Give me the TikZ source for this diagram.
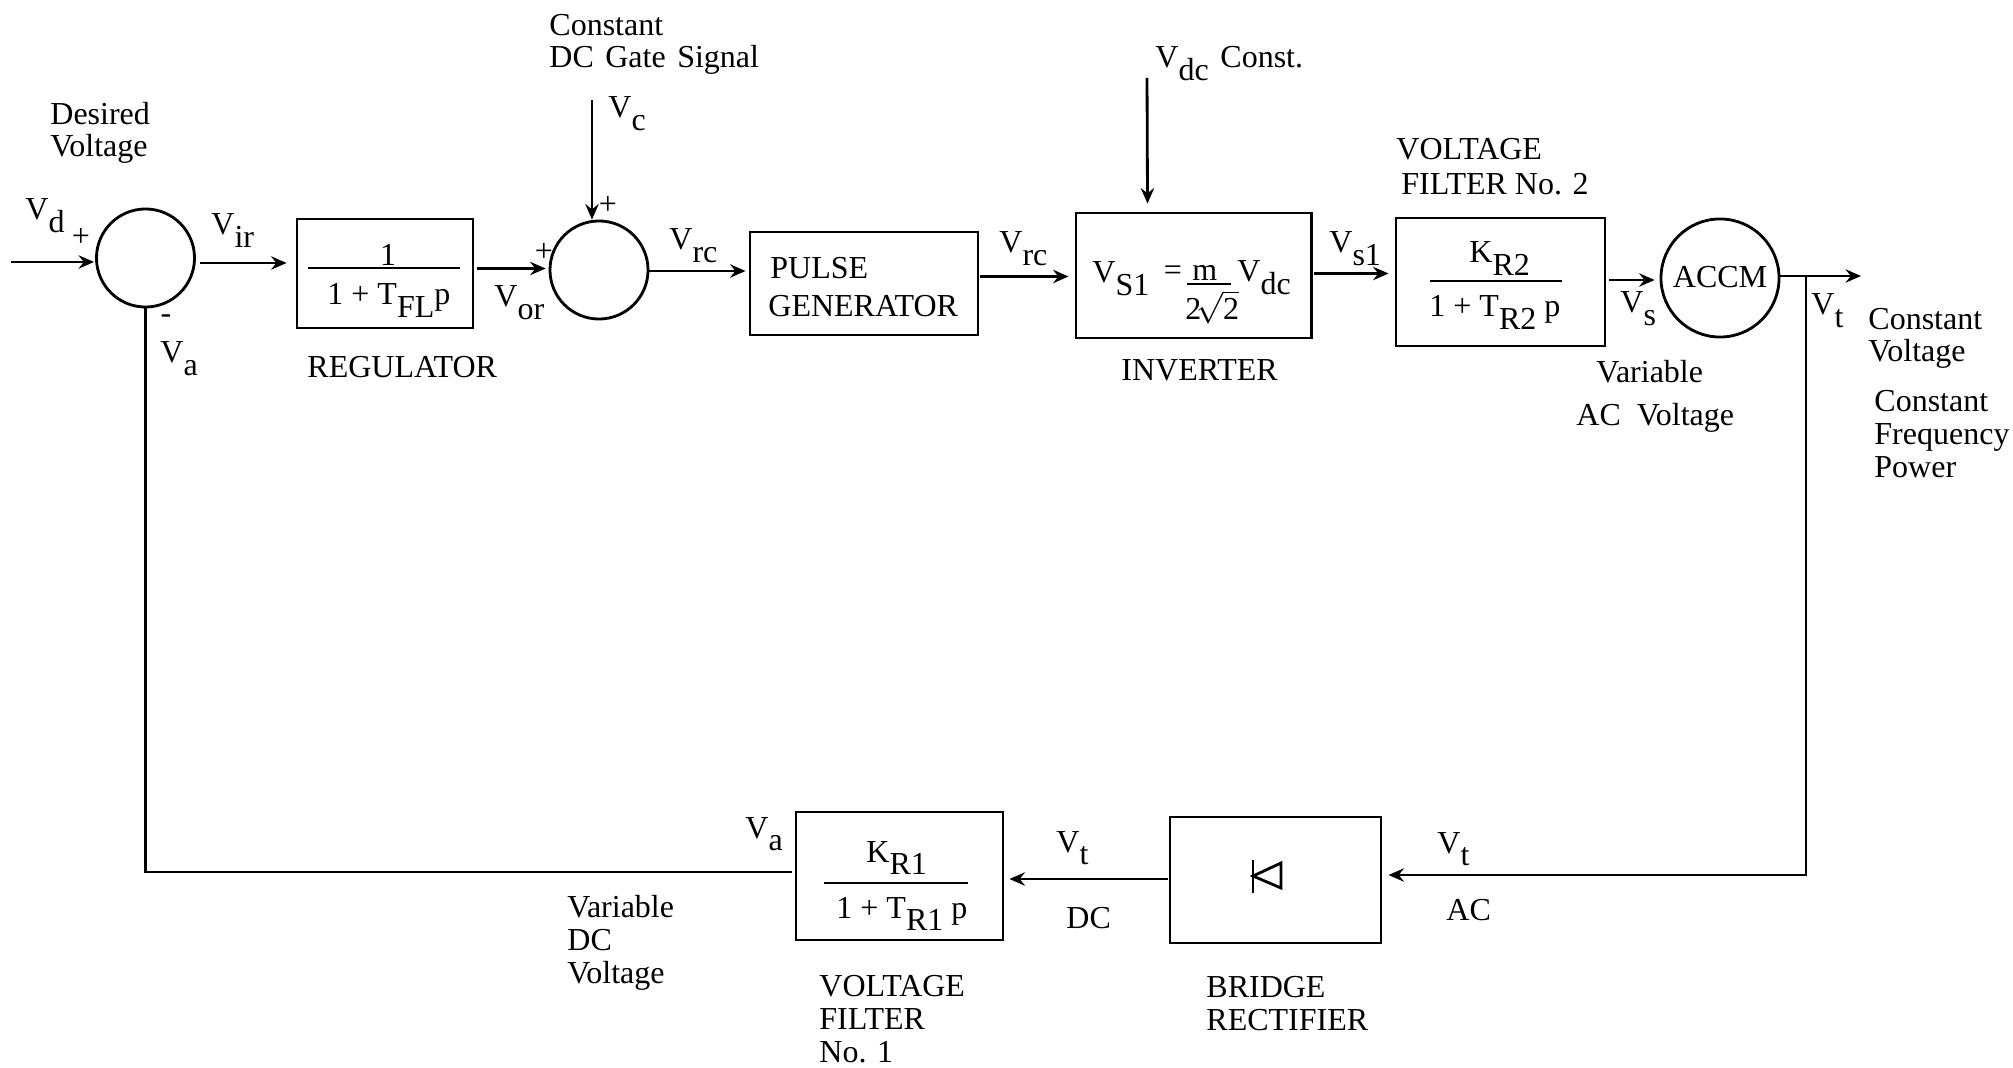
\documentclass[tikz,border=0pt]{standalone}
\usepackage{fontspec}
\setmainfont{Liberation Serif}
\usetikzlibrary{arrows.meta}
\newcommand{\dn}[1]{\raisebox{-3.6pt}{#1}}
\tikzset{
  sumnode/.style={draw,circle,minimum size=0.98cm,inner sep=0pt},
  blockbox/.style={draw,inner sep=0pt},
  txt/.style={inner sep=0pt,anchor=base west,align=left,xshift=-0.02cm,font=\fontsize{9.1}{9.3}\selectfont},
  mid/.style={inner sep=0pt,anchor=center,font=\fontsize{9.1}{9.3}\selectfont},
}
\begin{document}
\begin{tikzpicture}[x=0.01cm,y=-0.01cm,thick,>={Stealth[length=4.4pt,width=3.8pt,inset=1.5pt]}]
\useasboundingbox (0,0) rectangle (2013,1067);

% summing points and blocks
\node[sumnode] (sumd) at (145.5,258) {};
\node[sumnode] (sumc) at (599,270) {};
\node[blockbox,minimum width=1.76cm,minimum height=1.09cm] (reg) at (385,273.5) {};
\node[blockbox,minimum width=2.28cm,minimum height=1.03cm] (pulse) at (864,283.5) {};
\node[blockbox,minimum width=2.35cm,minimum height=1.25cm] (inv) at (1193.5,275.5) {};
\node[blockbox,minimum width=2.09cm,minimum height=1.28cm] (filtb) at (1500.5,282) {};
\node[draw,circle,minimum size=1.18cm,inner sep=0pt] (accm) at (1720,278) {};
\node[mid] (accmtxt) at (1720,277) {ACCM};
\node[blockbox,minimum width=2.07cm,minimum height=1.28cm] (filta) at (899.5,876) {};
\node[blockbox,minimum width=2.11cm,minimum height=1.26cm] (rect) at (1275.5,880) {};

% free ends
\coordinate (vdin) at (11,262);
\coordinate (vctop) at (592,100);
\coordinate (vdctop) at (1147,78);
\coordinate (vtout) at (1861,276);
\coordinate (vtdown) at (1806,276);

% connectors
\draw[->] (vdin) -- ([shift={(-1,4)}]sumd.west);
\draw[->] ([shift={(4,5)}]sumd.east) -- ([shift={(-9,-10.5)}]reg.west);
\draw[->] ([shift={(3,-5)}]reg.east) -- ([shift={(-3,-1.5)}]sumc.west);
\draw[->] (vctop) -- ([shift={(-7,0)}]sumc.north);
\draw[->] ([shift={(0,1)}]sumc.east) -- ([shift={(-3,-12.5)}]pulse.west);
\draw[->] ([shift={(1,-7)}]pulse.east) -- ([shift={(-6,1)}]inv.west);
\draw[->] (vdctop) -- ([shift={(-46,-8)}]inv.north);
\draw[->] ([shift={(1,-2)}]inv.east) -- ([shift={(-6,-8.5)}]filtb.west);
\draw[->] ([shift={(3,-2)}]filtb.east) -- ([shift={(-5,2)}]accm.west);
\draw[->] ([shift={(0,-2)}]accm.east) -- (vtout);
\draw[->] (vtdown) -- (1806,875) -- ([shift={(6,-5)}]rect.east);
\draw[->] ([shift={(-1,-1)}]rect.west) -- ([shift={(5,3)}]filta.east);
\draw (sumd.south) -- (145.5,872) -- ([shift={(-3,-4)}]filta.west);

% fraction bars and diode
\draw (308,268) -- (460,268);
\draw (1430,281) -- (1562,281);
\draw (824,883) -- (968,883);
\draw (1187,284) -- (1231,284);
\draw (1253,860) -- (1253,893);
\draw (1253,876) -- (1281,863) -- (1281,888) -- cycle;

% signal names
\node[txt] (vd) at (26,220) {V\dn{d}};
\node[txt] (vir) at (212,235) {V\dn{ir}};
\node[txt] (vor) at (495,307) {V\dn{or}};
\node[txt] (vc) at (609,118) {V\dn{c}};
\node[txt] (va) at (161,363) {V\dn{a}};
\node[txt] (vrca) at (670,250) {V\dn{rc}};
\node[txt] (vrcb) at (1000,253) {V\dn{rc}};
\node[txt] (vdc) at (1156,68) {V\dn{dc}};
\node[txt] (const) at (1221,68) {Const.};
\node[txt] (vsa) at (1330,253) {V\dn{s1}};
\node[txt] (vsb) at (1621,313) {V\dn{s}};
\node[txt] (vta) at (1812,315) {V\dn{t}};
\node[txt] (vtb) at (1438,853) {V\dn{t}};
\node[txt] (vtc) at (1057,852) {V\dn{t}};
\node[txt] (vab) at (746,838) {V\dn{a}};

% signs
\node[mid] (pa) at (81,237) {+};
\node[mid] (ma) at (166,319) {-};
\node[mid] (pb) at (608,205) {+};
\node[mid] (pc) at (544,252) {+};

% block contents
\node[mid] (regnum) at (388,255) {1};
\node[txt] (regden) at (328,305) {1 + T\dn{FL}p};
\node[txt] (pulsetxt) at (771,278) {PULSE};
\node[txt] (gentxt) at (769,317) {GENERATOR};
\node[txt] (vsone) at (1093,283) {V\dn{S1}};
\node[mid] (eqs) at (1173,273) {=};
\node[txt] (mtxt) at (1193,281) {m};
\node[txt] (rtwo) at (1186,320) {$\mbox{2}\mkern-3mu\sqrt{\mbox{2}}$};
\node[txt] (vdcb) at (1238,282) {V\dn{dc}};
\node[txt] (krb) at (1470,263) {K\dn{R2}};
\node[txt] (filtbden) at (1430,317) {1 + T\dn{R2} p};
\node[txt] (kra) at (867,862) {K\dn{R1}};
\node[txt] (filtaden) at (837,918) {1 + T\dn{R1} p};

% captions
\node[txt] (desired) at (51,157) {Desired\\Voltage};
\node[txt] (gate) at (550,68) {Constant\\DC\hspace{1pt} Gate\hspace{1pt} Signal};
\node[txt] (regcap) at (308,377) {REGULATOR};
\node[txt] (invcap) at (1122,380) {INVERTER};
\node[txt] (volcap) at (1397,160) {VOLTAGE};
\node[txt] (filtcap) at (1402,195) {FILTER No. 2};
\node[txt] (varac) at (1597,383) {Variable};
\node[txt] (acvol) at (1577,425) {AC\ \ Voltage};
\node[txt] (convol) at (1869,362) {Constant\\Voltage};
\node[txt] (confreq) at (1875,477) {Constant\\Frequency\\Power};
\node[txt] (vardc) at (568,983) {Variable\\DC\\Voltage};
\node[txt] (dctxt) at (1067,928) {DC};
\node[txt] (actxt) at (1447,920) {AC};
\node[txt] (filtacap) at (820,1062) {VOLTAGE\\FILTER\\No. 1};
\node[txt] (rectcap) at (1207,1030) {BRIDGE\\RECTIFIER};
\end{tikzpicture}
\end{document}
